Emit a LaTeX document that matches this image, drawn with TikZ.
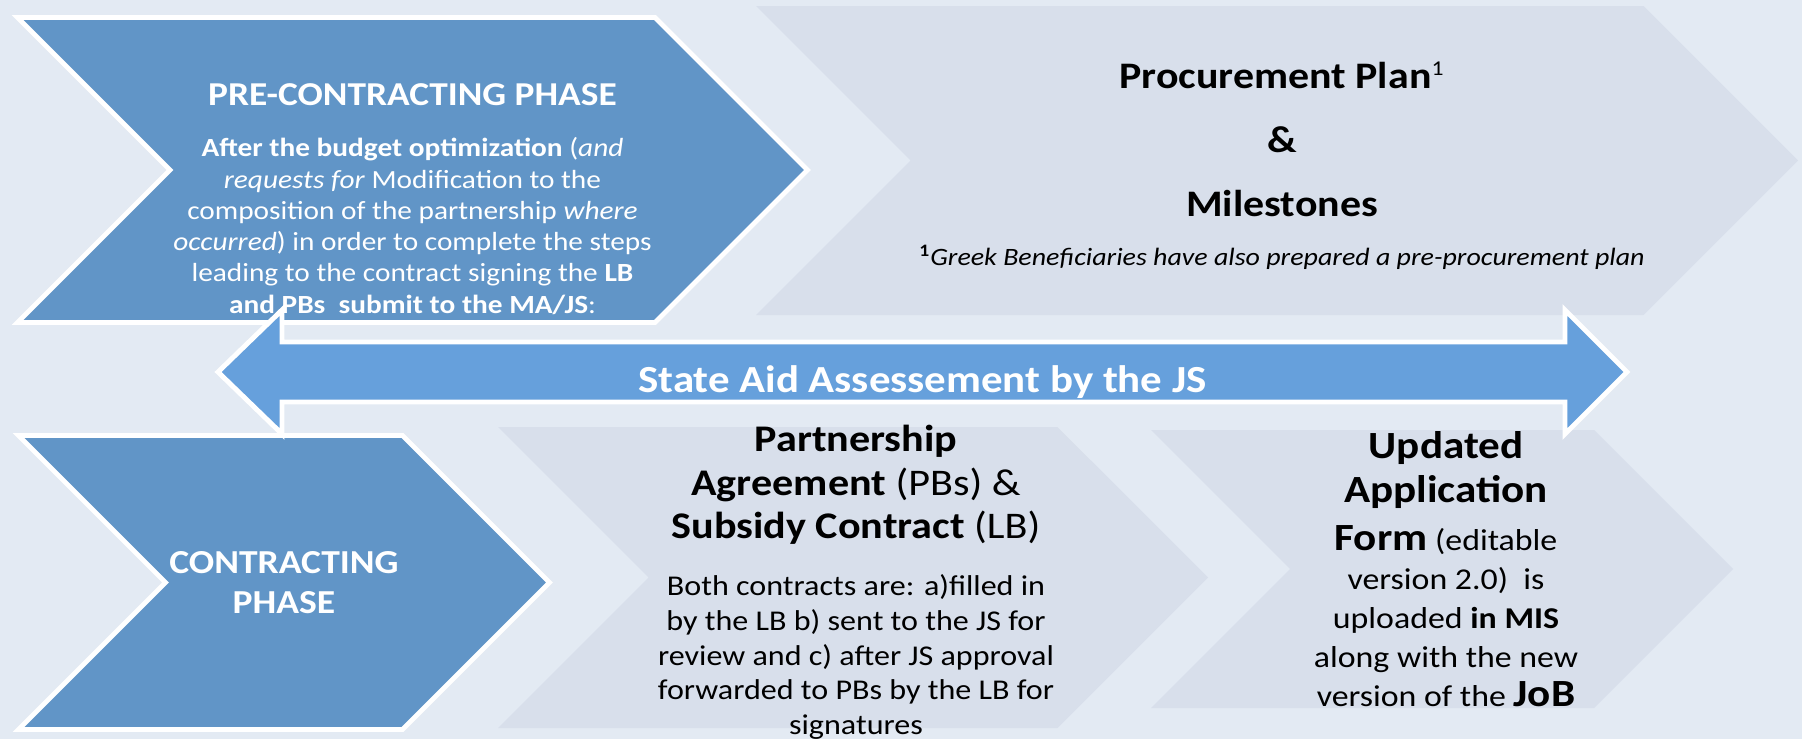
\documentclass[tikz,border=0pt]{standalone}
\usepackage{fontspec}
\setmainfont{Carlito}[FakeStretch=1.12]
\usepackage{xcolor}
\usetikzlibrary{positioning,shapes.symbols}
\definecolor{bgblue}{HTML}{E3EAF3}
\definecolor{phaseblue}{HTML}{6195C7}
\definecolor{stepgrey}{HTML}{D8DFEB}
\definecolor{aidblue}{HTML}{66A0DC}
\tikzset{%
	phase/.style  = {signal, signal to=east, signal from=west, signal pointer angle=90, fill=phaseblue, draw=white, line width=2.8pt, inner sep=0pt}, % dark phase
	stage/.style  = {signal, signal to=east, signal from=west, signal pointer angle=90, fill=stepgrey, inner sep=0pt}, % light step
	twoway/.style = {fill=aidblue, draw=white, line width=2.8pt, line join=miter}, % arrow
	lbl/.style    = {align=center, inner sep=0pt}, % text
}

\begin{document}
\begin{tikzpicture}
	\useasboundingbox[fill=bgblue] (0,0) rectangle (36.04,-14.78);
	% top row
	\node [phase, minimum width=15.8cm, minimum height=6.1cm] (pre) at (8.25,-3.4) {};
	\node [stage, minimum width=20.84cm, minimum height=6.18cm] (plan) at (25.54,-3.21) {};
	% bottom row
	\node [phase, minimum width=10.62cm, minimum height=5.88cm] (con) at (5.68,-11.65) {};
	\node [stage, minimum width=14.2cm, minimum height=6.02cm] (agr) at (17.06,-11.55) {};
	\node [stage, minimum width=11.64cm, minimum height=5.56cm] (upd) at (28.84,-11.38) {};
	
	\node [lbl, text=white, font=\fontsize{19}{23}\selectfont\bfseries, above of=pre, node distance=1.5cm] (preT) {PRE-CONTRACTING PHASE};
	\node [lbl, text=white, font=\fontsize{14.9}{17.8}\selectfont, below of=pre, node distance=1.12cm] (preB) {\textbf{After the budget optimization} (\textit{and}\\ \textit{requests for} Modification to the\\ composition of the partnership \textit{where}\\ \textit{occurred}) in order to complete the steps\\ leading to the contract signing the \textbf{LB}\\ \textbf{and PBs\ \ submit to the MA/JS}:};
	\node [lbl, font=\fontsize{21.3}{36.4}\selectfont\bfseries, above of=plan, node distance=0.43cm, xshift=0.1cm] (planT) {Procurement Plan\textsuperscript{\mdseries\fontsize{12}{12}\selectfont 1}\\ \&\\ Milestones};
	\node [lbl, font=\fontsize{14.2}{17}\selectfont\itshape, below of=plan, node distance=1.93cm, xshift=0.1cm] (planN) {\textsuperscript{\upshape\bfseries 1}Greek Beneficiaries have also prepared a pre-procurement plan};
	
	\node [lbl, text=white, font=\fontsize{19.1}{22.8}\selectfont\bfseries] (conT) at (con) {CONTRACTING\\ PHASE};
	\node [lbl, font=\fontsize{21.4}{24.8}\selectfont, above of=agr, node distance=1.85cm, xshift=0.06cm] (agrT) {\textbf{Partnership}\\ \textbf{Agreement} (PBs) \&\\ \textbf{Subsidy Contract} (LB)};
	\node [lbl, font=\fontsize{16.3}{19.9}\selectfont, below of=agr, node distance=1.59cm, xshift=0.06cm] (agrB) {Both contracts are: a)filled in\\ by the LB b) sent to the JS for\\ review and c) after JS approval\\ forwarded to PBs by the LB for\\ signatures};
	\node [lbl, font=\fontsize{21.9}{24.6}\selectfont\bfseries, above of=upd, node distance=1.98cm, xshift=0.08cm] (updT) {Updated\\ Application};
	\node [lbl, font=\fontsize{17.2}{22.2}\selectfont, below of=upd, node distance=0.95cm, xshift=0.08cm] (updB) {{\fontsize{21.9}{22.2}\selectfont\bfseries Form} (editable\\ version 2.0)\ \ is\\ uploaded \textbf{in MIS}\\ along with the new\\ version of the {\fontsize{21.9}{22.2}\selectfont\bfseries JoB}};
	
	% state aid arrow
	\coordinate (aidL) at (4.36,-7.44);
	\coordinate (aidR) at (32.54,-7.44);
	\draw [twoway] (aidL) -- ++(1.28,1.24) -- ++(0,-0.64) -- ++(25.66,0) -- ++(0,0.64) -- (aidR)
		-- ++(-1.24,-1.24) -- ++(0,0.64) -- ++(-25.66,0) -- ++(0,-0.64) -- cycle;
	\path (aidL) -- node [lbl, text=white, font=\fontsize{21.8}{26}\selectfont\bfseries, yshift=-0.2cm] (aidT) {State Aid Assessement by the JS} (aidR);
\end{tikzpicture}
\end{document}
